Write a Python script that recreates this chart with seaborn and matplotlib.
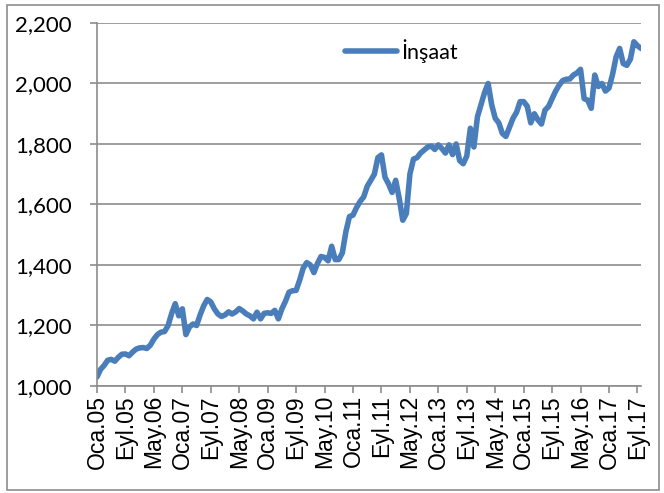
import numpy as np
import pandas as pd
import seaborn as sns
import matplotlib.pyplot as plt
from matplotlib.patches import Rectangle

# monthly index, Oca.05 .. Eki.17
months_tr = ['Oca', 'Şub', 'Mar', 'Nis', 'May', 'Haz',
             'Tem', 'Ağu', 'Eyl', 'Eki', 'Kas', 'Ara']
insaat = [
    1030, 1055, 1068, 1085, 1088, 1082, 1095, 1105, 1106, 1100, 1112, 1122,
    1126, 1127, 1124, 1135, 1155, 1170, 1178, 1180, 1200, 1240, 1272, 1232,
    1255, 1170, 1195, 1205, 1200, 1235, 1265, 1286, 1278, 1255, 1238, 1230,
    1235, 1245, 1238, 1245, 1256, 1248, 1238, 1232, 1222, 1244, 1222, 1240,
    1242, 1240, 1250, 1222, 1255, 1280, 1310, 1315, 1316, 1350, 1390, 1408,
    1400, 1375, 1405, 1428, 1425, 1414, 1462, 1418, 1418, 1440, 1510, 1560,
    1565, 1590, 1610, 1625, 1660, 1680, 1700, 1755, 1764, 1690, 1668, 1640,
    1680, 1620, 1548, 1570, 1700, 1750, 1755, 1770, 1780, 1790, 1793, 1782,
    1797, 1785, 1770, 1797, 1765, 1800, 1745, 1735, 1760, 1852, 1790, 1890,
    1930, 1970, 2000, 1930, 1885, 1870, 1835, 1825, 1855, 1885, 1905, 1940,
    1940, 1925, 1870, 1900, 1880, 1866, 1912, 1924, 1950, 1975, 1995, 2010,
    2014, 2015, 2028, 2035, 2047, 1950, 1945, 1918, 2028, 1990, 2000, 1975,
    1985, 2030, 2088, 2116, 2066, 2060, 2080, 2138, 2125, 2116,
]
labels = [f"{months_tr[i % 12]}.{(5 + i // 12):02d}" for i in range(len(insaat))]
y_ticks = [1000, 1200, 1400, 1600, 1800, 2000, 2200]

df = pd.DataFrame({'t': np.arange(len(insaat)), 'İnşaat': insaat})

sns.set_style('white')
fig = plt.figure(figsize=(6.64, 4.93), dpi=100)
ax = fig.add_axes([97/664, 107/493, 544/664, 363/493])

sns.lineplot(data=df, x='t', y='İnşaat', ax=ax, color='#4a7ebb',
             linewidth=4.0, label='İnşaat')

ax.set_xlim(0, len(insaat) - 1)
ax.set_ylim(1000, 2200)
ax.set_yticks(y_ticks)
ax.set_yticklabels([f"{v:,}" for v in y_ticks], fontsize=16, family='Lato',
                   color='black')
ticks = list(range(0, len(insaat), 8))
ax.set_xticks(ticks)
ax.set_xticklabels([labels[i] for i in ticks], rotation=90,
                   fontsize=16.5, family='Liberation Sans', color='black')
ax.set_xlabel('')
ax.set_ylabel('')

ax.grid(axis='y', color='#8c8c8c', linewidth=1.2)
ax.set_axisbelow(True)
ax.tick_params(axis='y', length=5, width=1.2, color='#8c8c8c', pad=13, left=True)
ax.tick_params(axis='x', length=5, width=1.2, color='#8c8c8c', pad=1.5, bottom=True)
for s in ['top', 'right']:
    ax.spines[s].set_visible(False)
for s in ['left', 'bottom']:
    ax.spines[s].set_color('#8c8c8c')
    ax.spines[s].set_linewidth(1.2)

leg = ax.legend(loc='upper left', bbox_to_anchor=(0.42, 1.01), frameon=False,
                prop={'family': 'Lato', 'size': 15.5}, handlelength=2.4,
                handletextpad=0.2)
for t in leg.get_texts():
    t.set_color('black')

fig.patches.append(Rectangle((7/664, 3/493), 652/664, 485/493, transform=fig.transFigure,
                             fill=False, edgecolor='#8c8c8c', linewidth=1.2))

fig.savefig('out.png', dpi=100)
